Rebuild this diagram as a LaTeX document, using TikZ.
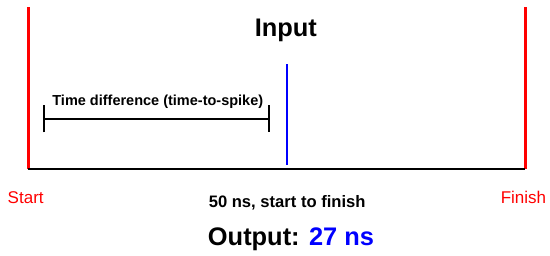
\documentclass[tikz,border=0pt]{standalone}
\usepackage{fontspec}
\setmainfont{Liberation Sans}
\usetikzlibrary{positioning,arrows.meta}
\definecolor{signalred}{RGB}{255,0,0}
\definecolor{spikeblue}{RGB}{0,0,255}
\tikzset{
  edge/.style={line width=2.6pt, draw=signalred},
  spike/.style={line width=2.3pt, draw=spikeblue},
  axis/.style={line width=2pt, draw=black},
  span/.style={{Bar[width=27pt]}-{Bar[width=27pt]}, line width=1.6pt, draw=black},
  txt/.style={anchor=base, inner sep=0pt, font=\fontsize{#1}{#1}\selectfont\bfseries},
  txt/.default={16.6pt},
  tag/.style={anchor=base, inner sep=0pt, text=signalred, font=\fontsize{17pt}{17pt}\selectfont}
}

\begin{document}
\begin{tikzpicture}[x=1pt, y=-1pt]
  \useasboundingbox (0,0) rectangle (550,256);
  \coordinate (s0) at (28.3,7.3);
  \coordinate (s1) at (28.3,169.5);
  \coordinate (f0) at (525.2,7.3);
  \coordinate (f1) at (525.2,169.5);
  \coordinate (b0) at (287.2,64.3);
  \coordinate (b1) at (287.2,165);
  \coordinate (d0) at (43.3,118.8);
  \coordinate (d1) at (269.6,118.8);
  \node[txt=25.4pt] (input) at (285.8,36.7) {Input};
  \node[txt=14.5pt] (diff) at (157.8,106) {Time difference (time-to-spike)};
  \node[tag] (start) at (25.7,203.3) {Start};
  \node[tag] (finish) at (523.5,203.3) {Finish};
  \node[txt] (total) at (287.2,207.3) {50 ns, start to finish};
  \node[txt=25.4pt] (output) at (291,245.6) {Output: \textcolor{spikeblue}{27 ns}};
  \draw[edge] (s0) -- (s1);
  \draw[edge] (f0) -- (f1);
  \draw[axis] (s1) -- (f1);
  \draw[spike] (b0) -- (b1);
  \draw[span] (d0) -- (d1);
\end{tikzpicture}
\end{document}
